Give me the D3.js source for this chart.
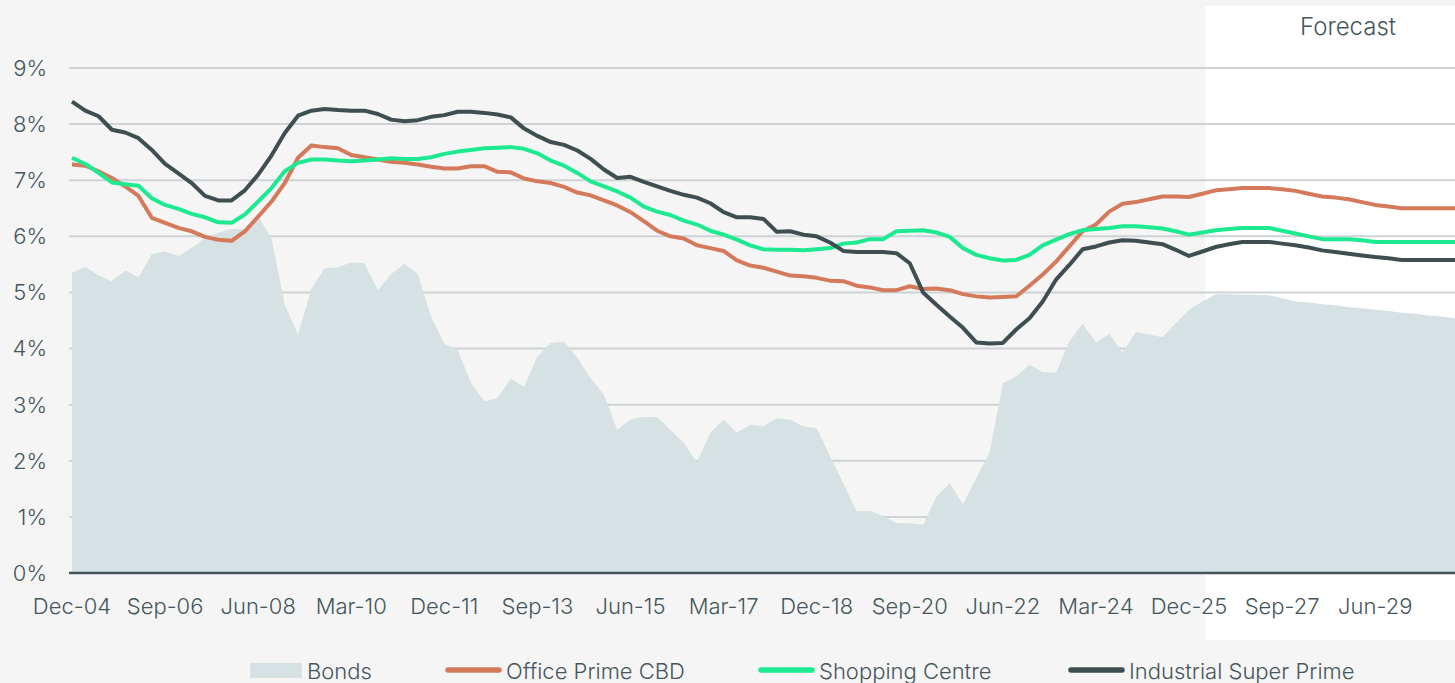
<!DOCTYPE html>
<html>
<head>
<meta charset="utf-8">
<script src="https://cdn.jsdelivr.net/npm/d3@7"></script>
<style>
  html, body { margin: 0; padding: 0; background: #f5f5f5; }
  svg { display: block; font-family: Inter, "Noto Sans", sans-serif; font-weight: 300; }
</style>
</head>
<body>
<div id="viz"></div>
<script>
// quarterly categories, Dec-04 .. Dec-30
const months = ["Mar", "Jun", "Sep", "Dec"];
let quarters = [];
for (let y = 2004; y <= 2030; y++) {
  for (let m = 0; m < 4; m++) {
    if (y == 2004 && m < 3) continue;
    quarters.push(months[m] + "-" + String(y % 100).padStart(2, "0"));
  }
}

const tickLabels = ["Dec-04", "Sep-06", "Jun-08", "Mar-10", "Dec-11", "Sep-13", "Jun-15",
  "Mar-17", "Dec-18", "Sep-20", "Jun-22", "Mar-24", "Dec-25", "Sep-27", "Jun-29"];
const yTicks = [0, 1, 2, 3, 4, 5, 6, 7, 8, 9];
const forecastStart = "Mar-26";

const bonds = [5.35, 5.46, 5.30, 5.20, 5.39, 5.27, 5.68, 5.73, 5.65, 5.79,
  5.97, 6.07, 6.13, 6.13, 6.35, 5.97, 4.78, 4.25, 5.06, 5.43,
  5.45, 5.54, 5.52, 5.04, 5.33, 5.51, 5.33, 4.57, 4.08, 3.98,
  3.39, 3.06, 3.12, 3.46, 3.32, 3.86, 4.10, 4.12, 3.83, 3.47,
  3.18, 2.55, 2.74, 2.78, 2.78, 2.55, 2.32, 1.97, 2.50, 2.73,
  2.50, 2.64, 2.62, 2.76, 2.73, 2.61, 2.58, 2.08, 1.60, 1.10,
  1.11, 1.01, 0.89, 0.89, 0.86, 1.36, 1.60, 1.23, 1.69, 2.14,
  3.38, 3.50, 3.71, 3.58, 3.57, 4.13, 4.44, 4.11, 4.26, 3.93,
  4.29, 4.25, 4.20, 4.45, 4.69, 4.84, 4.97, 4.97, 4.96, 4.96,
  4.95, 4.90, 4.84, 4.82, 4.79, 4.77, 4.74, 4.72, 4.69, 4.67,
  4.64, 4.62, 4.59, 4.57, 4.54];

const office = [7.28, 7.26, 7.16, 7.04, 6.89, 6.72, 6.33, 6.24, 6.15, 6.09,
  5.99, 5.94, 5.92, 6.09, 6.35, 6.62, 6.95, 7.40, 7.62, 7.59,
  7.57, 7.45, 7.41, 7.37, 7.33, 7.31, 7.28, 7.24, 7.21, 7.21,
  7.25, 7.25, 7.15, 7.14, 7.03, 6.98, 6.95, 6.88, 6.78, 6.73,
  6.64, 6.55, 6.43, 6.27, 6.10, 6.00, 5.96, 5.84, 5.79, 5.74,
  5.57, 5.48, 5.44, 5.37, 5.30, 5.29, 5.26, 5.21, 5.20, 5.12,
  5.09, 5.04, 5.04, 5.11, 5.06, 5.07, 5.04, 4.97, 4.93, 4.91,
  4.92, 4.93, 5.12, 5.32, 5.55, 5.82, 6.09, 6.21, 6.44, 6.58,
  6.61, 6.66, 6.71, 6.71, 6.70, 6.76, 6.82, 6.84, 6.86, 6.86,
  6.86, 6.84, 6.81, 6.76, 6.71, 6.69, 6.66, 6.61, 6.56, 6.53,
  6.50, 6.50, 6.50, 6.50, 6.50];

const shopping = [7.40, 7.29, 7.13, 6.96, 6.93, 6.90, 6.68, 6.56, 6.49, 6.40,
  6.34, 6.25, 6.24, 6.39, 6.62, 6.86, 7.16, 7.31, 7.37, 7.37,
  7.35, 7.34, 7.35, 7.37, 7.39, 7.38, 7.38, 7.41, 7.47, 7.51,
  7.54, 7.57, 7.58, 7.59, 7.56, 7.48, 7.35, 7.26, 7.13, 6.98,
  6.89, 6.80, 6.69, 6.53, 6.44, 6.38, 6.28, 6.21, 6.10, 6.03,
  5.94, 5.84, 5.77, 5.76, 5.76, 5.75, 5.77, 5.79, 5.87, 5.89,
  5.95, 5.95, 6.09, 6.10, 6.11, 6.07, 5.99, 5.79, 5.67, 5.61,
  5.57, 5.58, 5.67, 5.84, 5.94, 6.04, 6.11, 6.13, 6.15, 6.18,
  6.18, 6.16, 6.14, 6.09, 6.03, 6.07, 6.11, 6.13, 6.15, 6.15,
  6.15, 6.10, 6.05, 6.00, 5.95, 5.95, 5.95, 5.93, 5.90, 5.90,
  5.90, 5.90, 5.90, 5.90, 5.90];

const industrial = [8.40, 8.24, 8.14, 7.90, 7.85, 7.75, 7.54, 7.29, 7.12, 6.95,
  6.72, 6.64, 6.64, 6.82, 7.10, 7.44, 7.84, 8.15, 8.24, 8.27,
  8.25, 8.24, 8.24, 8.18, 8.08, 8.05, 8.07, 8.13, 8.16, 8.22,
  8.22, 8.20, 8.17, 8.12, 7.92, 7.79, 7.68, 7.63, 7.53, 7.38,
  7.19, 7.04, 7.06, 6.97, 6.89, 6.81, 6.74, 6.69, 6.59, 6.43,
  6.34, 6.34, 6.31, 6.08, 6.09, 6.03, 6.00, 5.89, 5.74, 5.72,
  5.72, 5.72, 5.70, 5.52, 5.00, 4.78, 4.57, 4.37, 4.11, 4.09,
  4.10, 4.34, 4.54, 4.84, 5.23, 5.49, 5.77, 5.82, 5.89, 5.93,
  5.92, 5.89, 5.86, 5.76, 5.65, 5.73, 5.81, 5.86, 5.90, 5.90,
  5.90, 5.87, 5.84, 5.80, 5.75, 5.72, 5.69, 5.66, 5.63, 5.61,
  5.58, 5.58, 5.58, 5.58, 5.58];

let w = 1455;
let h = 683;

let textColor = "#46575b";
let gridColor = "#cdd3d6";

const svg = d3.select("#viz")
  .append("svg")
  .attr("width", w)
  .attr("height", h);

svg.append("rect")
  .attr("width", w)
  .attr("height", h)
  .attr("fill", "#f5f5f5");

const xScale = d3.scalePoint()
  .domain(quarters)
  .range([72, 1455]);

const yScale = d3.scaleLinear()
  .domain([0, 9])
  .range([573, 68]);

// forecast panel
svg.append("rect")
  .attr("x", xScale(forecastStart) + 3)
  .attr("y", 6)
  .attr("width", w - xScale(forecastStart) - 3)
  .attr("height", 634)
  .attr("fill", "#ffffff");

svg.append("text")
  .attr("x", 1348)
  .attr("y", 35)
  .attr("text-anchor", "middle")
  .attr("font-size", 24)
  .attr("fill", textColor)
  .text("Forecast");

// grid
let gridGroup = svg.append("g");
gridGroup.selectAll("line")
  .data(yTicks.filter(d => d > 0))
  .enter()
  .append("line")
  .attr("x1", 69)
  .attr("x2", w)
  .attr("y1", d => yScale(d))
  .attr("y2", d => yScale(d))
  .attr("stroke", gridColor)
  .attr("stroke-width", 2);

// y labels
svg.append("g").selectAll("text")
  .data(yTicks)
  .enter()
  .append("text")
  .attr("x", 47)
  .attr("y", d => yScale(d))
  .attr("dy", "0.36em")
  .attr("text-anchor", "end")
  .attr("font-size", 22)
  .attr("fill", textColor)
  .text(d => d + "%");

// bonds area
const area = d3.area()
  .x((d, i) => xScale(quarters[i]))
  .y0(yScale(0))
  .y1(d => yScale(d));

svg.append("path")
  .datum(bonds)
  .attr("d", area)
  .attr("fill", "#d5e1e3");

// baseline
svg.append("line")
  .attr("x1", 69)
  .attr("x2", w)
  .attr("y1", yScale(0))
  .attr("y2", yScale(0))
  .attr("stroke", "#44555a")
  .attr("stroke-width", 2.5);

// x labels
svg.append("g").selectAll("text")
  .data(tickLabels)
  .enter()
  .append("text")
  .attr("x", d => xScale(d))
  .attr("y", 614)
  .attr("text-anchor", "middle")
  .attr("font-size", 22)
  .attr("fill", textColor)
  .text(d => d);

// lines
const line = d3.line()
  .x((d, i) => xScale(quarters[i]))
  .y(d => yScale(d));

let seriesList = [
  { name: "Office Prime CBD", values: office, color: "#d47a5a" },
  { name: "Shopping Centre", values: shopping, color: "#1de991" },
  { name: "Industrial Super Prime", values: industrial, color: "#3f4f51" }
];

svg.append("g").selectAll("path")
  .data(seriesList)
  .enter()
  .append("path")
  .attr("d", d => line(d.values))
  .attr("fill", "none")
  .attr("stroke", d => d.color)
  .attr("stroke-width", 4)
  .attr("stroke-linejoin", "round");

// legend
let legend = svg.append("g");
legend.append("rect")
  .attr("x", 250)
  .attr("y", 663)
  .attr("width", 52)
  .attr("height", 15)
  .attr("fill", "#d5e1e3");
legend.append("text")
  .attr("x", 307)
  .attr("y", 679)
  .attr("font-size", 22)
  .attr("fill", textColor)
  .text("Bonds");

let legendX = [445, 758, 1068];
seriesList.forEach((s, i) => {
  legend.append("line")
    .attr("x1", legendX[i] + 3)
    .attr("x2", legendX[i] + 54)
    .attr("y1", 670)
    .attr("y2", 670)
    .attr("stroke", s.color)
    .attr("stroke-width", 5.5)
    .attr("stroke-linecap", "round");
  legend.append("text")
    .attr("x", legendX[i] + 61)
    .attr("y", 679)
    .attr("font-size", 22)
    .attr("fill", textColor)
    .text(s.name);
});
</script>
</body>
</html>
